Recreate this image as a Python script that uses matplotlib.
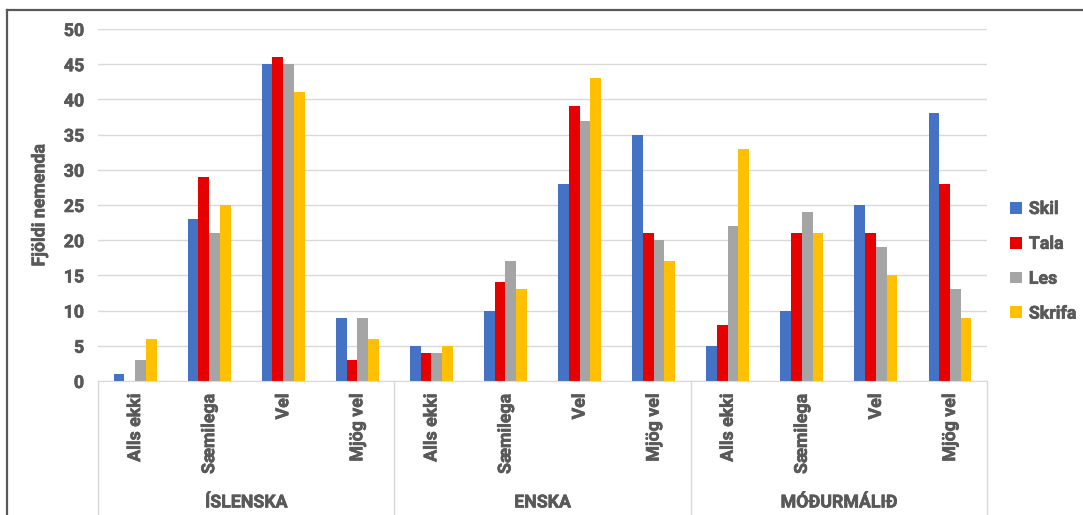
import numpy as np
import matplotlib
matplotlib.use('Agg')
import matplotlib.pyplot as plt
import matplotlib.transforms as mtransforms
import matplotlib.patheffects as pe
from matplotlib.lines import Line2D

groups = ['ÍSLENSKA', 'ENSKA', 'MÓÐURMÁLIÐ']
levels = ['Alls ekki', 'Sæmilega', 'Vel', 'Mjög vel']
series = ['Skil', 'Tala', 'Les', 'Skrifa']

skil = [1, 23, 45, 9, 5, 10, 28, 35, 5, 10, 25, 38]
tala = [0, 29, 46, 3, 4, 14, 39, 21, 8, 21, 21, 28]
les = [3, 21, 45, 9, 4, 17, 37, 20, 22, 24, 19, 13]
skrifa = [6, 25, 41, 6, 5, 13, 43, 17, 33, 21, 15, 9]

colors = ['#4472C4', '#E60000', '#A5A5A5', '#FFC000']
txt = '#595959'

plt.rcParams['font.family'] = ['Roboto', 'DejaVu Sans']
plt.rcParams['font.weight'] = 'bold'
fs = 12.8
# thicken the strokes a little, the reference text is heavy
thick = [pe.withStroke(linewidth=0.45, foreground=txt)]

fig = plt.figure(figsize=(10.83, 5.15), dpi=100)
ax = fig.add_axes([0.0905, 0.2602, 0.8209, 0.6835])

n = len(skil)
x = np.arange(n)
w = 0.145
for i, (vals, c, lab) in enumerate(zip([skil, tala, les, skrifa], colors, series)):
    ax.bar(x + (i - 1.5) * w, vals, w, color=c, label=lab, zorder=3)

ax.set_xlim(-0.5, n - 0.5)
ax.set_ylim(0, 50)
ax.set_yticks(range(0, 51, 5))
ax.yaxis.grid(True, color='#D9D9D9', linewidth=1, zorder=0)
for s in ['top', 'right', 'left']:
    ax.spines[s].set_visible(False)
ax.spines['bottom'].set_color('#D9D9D9')
ax.spines['bottom'].set_zorder(4)
ax.tick_params(axis='y', length=0, labelsize=fs, labelcolor=txt, pad=10)
ax.tick_params(axis='x', length=0, labelbottom=False)
for t in ax.get_yticklabels():
    t.set_path_effects(thick)
ax.set_ylabel('Fjöldi nemenda', fontsize=fs, color=txt, fontweight='bold', labelpad=11,
              path_effects=thick)

trans = mtransforms.blended_transform_factory(ax.transData, ax.transAxes)
for k in range(n):
    ax.text(k, -0.035, levels[k % 4], rotation=90, ha='center', va='top',
            fontsize=fs, color=txt, fontweight='bold', transform=trans, path_effects=thick)
for g, name in enumerate(groups):
    ax.text(g * 4 + 1.5, -0.345, name, ha='center', va='center',
            fontsize=fs, color=txt, fontweight='bold', transform=trans, path_effects=thick)
for b in range(4):
    ax.add_line(Line2D([b * 4 - 0.5] * 2, [0, -0.39], transform=trans,
                       color='#D9D9D9', linewidth=1, clip_on=False))

# outer frame
fig.add_artist(Line2D([7 / 1083, 1.0], [1 - 10 / 515] * 2, color='#595959', linewidth=1.6))
fig.add_artist(Line2D([7 / 1083] * 2, [0, 1 - 10 / 515], color='#595959', linewidth=1.6))

leg = ax.legend(loc='center left', bbox_to_anchor=(1.012, 0.34), frameon=False,
                fontsize=fs, handlelength=0.65, handleheight=0.65, handletextpad=0.4,
                labelspacing=0.95, borderpad=0.2)
for t in leg.get_texts():
    t.set_color(txt)
    t.set_path_effects(thick)

fig.savefig('out.png', dpi=100)
